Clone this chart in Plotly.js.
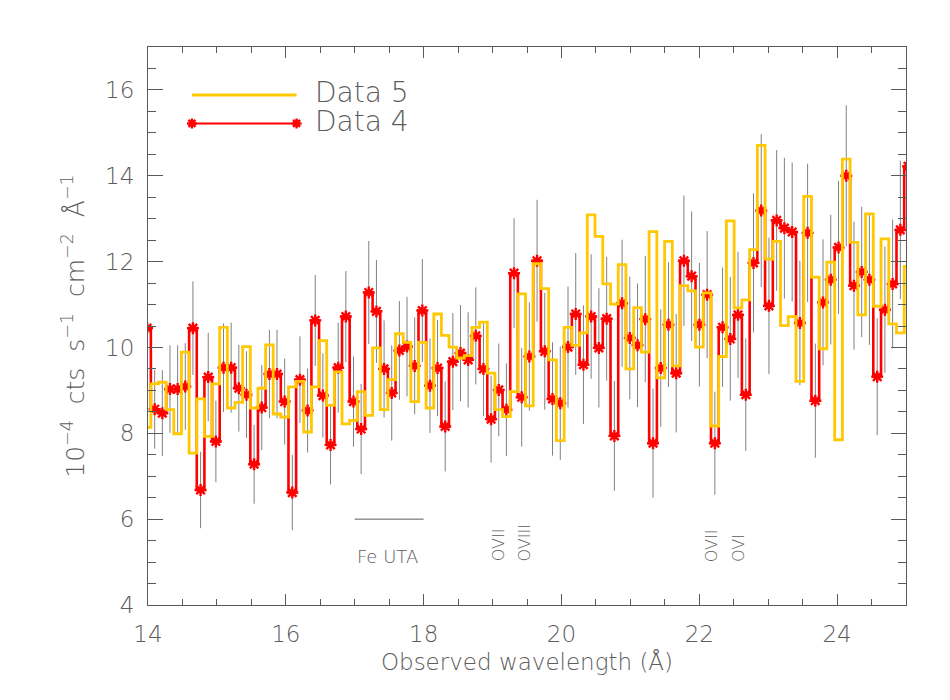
<!DOCTYPE html>
<html>
<head>
<meta charset="utf-8">
<script src="https://cdn.plot.ly/plotly-3.0.1.min.js"></script>
<style>
  html, body { margin: 0; padding: 0; background: #fff; }
  #chart { width: 950px; height: 700px; }
</style>
</head>
<body>
<div id="chart"></div>
<script>
// Bin centres, observed wavelength (Å)
const wavelength = [
    13.986, 14.097, 14.208, 14.319, 14.430, 14.541, 14.652, 14.763, 14.874, 14.985,
    15.096, 15.207, 15.318, 15.429, 15.540, 15.651, 15.762, 15.872, 15.983, 16.094,
    16.205, 16.316, 16.427, 16.538, 16.649, 16.760, 16.871, 16.982, 17.093, 17.204,
    17.315, 17.426, 17.537, 17.648, 17.759, 17.870, 17.981, 18.092, 18.202, 18.313,
    18.424, 18.535, 18.646, 18.757, 18.868, 18.979, 19.090, 19.201, 19.312, 19.423,
    19.534, 19.646, 19.758, 19.870, 19.983, 20.095, 20.207, 20.319, 20.431, 20.543,
    20.656, 20.768, 20.880, 20.992, 21.104, 21.216, 21.329, 21.441, 21.553, 21.665,
    21.777, 21.889, 22.002, 22.114, 22.226, 22.338, 22.450, 22.562, 22.675, 22.787,
    22.899, 23.011, 23.123, 23.235, 23.348, 23.460, 23.572, 23.684, 23.796, 23.908,
    24.021, 24.133, 24.245, 24.357, 24.469, 24.582, 24.694, 24.806, 24.918, 25.030
];

// Data 4 (red) flux and 1-sigma errors, 10^-4 cts s^-1 cm^-2 Å^-1
const data4 = [
    10.45, 8.56, 8.47, 9.03, 9.03, 9.09, 10.45, 6.68, 9.31, 7.81,
    9.53, 9.53, 9.05, 8.90, 7.28, 8.60, 9.38, 9.38, 8.74, 6.62,
    9.25, 8.53, 10.63, 8.88, 7.73, 9.53, 10.72, 8.74, 8.10, 11.28,
    10.84, 9.50, 8.94, 9.93, 10.02, 9.57, 10.86, 9.11, 9.52, 8.16,
    9.67, 9.87, 9.71, 10.27, 9.50, 8.33, 9.01, 8.55, 11.73, 8.84,
    9.79, 12.02, 9.91, 8.80, 8.70, 10.01, 10.78, 9.60, 10.72, 9.99,
    10.67, 7.94, 11.03, 10.22, 10.05, 10.66, 7.77, 9.52, 10.53, 9.40,
    12.02, 11.66, 10.53, 11.23, 7.77, 10.47, 10.20, 10.76, 8.90, 11.97,
    13.19, 10.97, 12.96, 12.78, 12.69, 10.57, 12.67, 8.76, 11.05, 11.58,
    12.33, 14.00, 11.44, 11.76, 11.58, 9.32, 10.88, 11.48, 12.74, 14.22
];
const data4Err = [
    1.00, 0.92, 1.00, 1.02, 1.02, 1.01, 1.09, 0.89, 1.03, 0.95,
    1.03, 1.05, 1.01, 1.01, 0.92, 0.99, 1.03, 1.03, 1.00, 0.88,
    1.01, 0.98, 1.06, 0.98, 0.92, 1.05, 1.06, 1.05, 1.05, 1.20,
    1.20, 1.13, 1.11, 1.15, 1.16, 1.13, 1.20, 1.10, 1.12, 1.05,
    1.13, 1.12, 1.11, 1.13, 1.10, 1.01, 1.08, 1.08, 1.28, 1.15,
    1.26, 1.42, 1.36, 1.32, 1.32, 1.41, 1.42, 1.38, 1.45, 1.39,
    1.44, 1.28, 1.48, 1.43, 1.44, 1.47, 1.27, 1.37, 1.45, 1.38,
    1.52, 1.51, 1.44, 1.48, 1.20, 1.39, 1.44, 1.47, 1.31, 1.62,
    1.78, 1.59, 1.64, 1.64, 1.62, 1.45, 1.61, 1.33, 1.47, 1.51,
    1.55, 1.64, 1.49, 1.52, 1.52, 1.36, 1.47, 1.50, 1.61, 1.65
];

// Data 5 (yellow) flux
const data5 = [
    8.14, 9.15, 9.19, 8.55, 7.99, 9.89, 7.54, 8.80, 7.93, 9.15,
    10.47, 8.59, 8.72, 10.02, 8.59, 9.05, 10.06, 8.45, 8.38, 9.08,
    9.21, 8.03, 9.08, 10.16, 8.65, 9.43, 8.22, 8.30, 8.97, 8.42,
    9.99, 8.55, 9.25, 10.32, 10.12, 8.74, 10.12, 8.59, 10.78, 10.28,
    10.01, 9.75, 9.81, 10.47, 10.59, 9.40, 8.55, 8.39, 8.97, 11.25,
    8.64, 11.95, 11.37, 9.71, 7.83, 10.47, 10.05, 10.34, 13.09, 12.59,
    11.48, 11.01, 11.93, 9.50, 10.93, 9.89, 12.70, 9.29, 12.47, 9.57,
    11.44, 11.32, 10.01, 11.27, 8.17, 9.79, 12.95, 10.92, 11.11, 12.28,
    14.71, 12.06, 12.47, 10.51, 10.72, 9.21, 13.52, 11.64, 9.97, 11.99,
    7.85, 14.39, 12.45, 10.76, 13.11, 10.96, 12.53, 10.55, 10.34, 11.89
];

// Line identifications
const lineLabels = ['OVII', 'OVIII', 'OVII', 'OVI'];
const lineWavelengths = [19.08, 19.46, 22.17, 22.58];
const utaRange = [17, 18];

const legendNames = ['Data 5', 'Data 4'];

const RED = '#ff0000';
const YELLOW = '#ffc800';
const AXIS = '#5a5a5a';
const TEXT = '#5c5c5c';
const FONT = 'DejaVu Sans, sans-serif';

const traces = [
    {
        x: wavelength, y: data4, type: 'scatter', mode: 'lines+markers',
        line: { shape: 'hvh', color: RED, width: 2.6 },
        marker: { symbol: 'asterisk-open', size: 10, color: RED, line: { color: RED, width: 2.4 } },
        error_y: { type: 'data', array: data4Err, visible: true, thickness: 1, width: 0, color: '#808080' },
        showlegend: false, hoverinfo: 'skip'
    },
    {
        x: wavelength, y: data5, type: 'scatter', mode: 'lines',
        line: { shape: 'hvh', color: YELLOW, width: 2.8 },
        showlegend: false, hoverinfo: 'skip'
    }
];

// Hand-made legend (long sample lines, asterisks at both ends)
const legX0 = 0.058, legX1 = 0.196, legTextX = 0.219;
const legY = [0.914, 0.863];
const star = 'M-5,0H5M0,-5V5M-3.5,-3.5L3.5,3.5M-3.5,3.5L3.5,-3.5';

const shapes = [
    { type: 'line', xref: 'x', yref: 'y', x0: utaRange[0], x1: utaRange[1], y0: 6, y1: 6,
      line: { color: AXIS, width: 1 } },
    { type: 'line', xref: 'paper', yref: 'paper', x0: legX0, x1: legX1, y0: legY[0], y1: legY[0],
      line: { color: YELLOW, width: 3 } },
    { type: 'line', xref: 'paper', yref: 'paper', x0: legX0, x1: legX1, y0: legY[1], y1: legY[1],
      line: { color: RED, width: 2 } }
];
[legX0, legX1].forEach(xa => {
    shapes.push({
        type: 'path', xref: 'paper', yref: 'paper', xsizemode: 'pixel', ysizemode: 'pixel',
        xanchor: xa, yanchor: legY[1], path: star, line: { color: RED, width: 2.4 }
    });
});

const annotations = [
    { x: utaRange[0], y: 5.13, xref: 'x', yref: 'y', text: 'Fe UTA', showarrow: false,
      xanchor: 'left', yanchor: 'middle', font: { size: 18, color: TEXT } }
];
lineLabels.forEach((lab, i) => {
    annotations.push({
        x: lineWavelengths[i], y: 4.96, xref: 'x', yref: 'y', text: lab, showarrow: false,
        textangle: -90, xanchor: 'center', yanchor: 'bottom', font: { size: 16, color: TEXT }
    });
});
legendNames.forEach((name, i) => {
    annotations.push({
        x: legTextX, y: legY[i] + 0.004, xref: 'paper', yref: 'paper', text: name, showarrow: false,
        xanchor: 'left', yanchor: 'middle', borderpad: 0, font: { size: 28, color: TEXT }
    });
});

const axisCommon = {
    showgrid: false, zeroline: false, showline: true, linecolor: AXIS, linewidth: 1,
    mirror: 'allticks', ticks: 'inside', tickcolor: AXIS, tickwidth: 1,
    tickfont: { size: 23, color: TEXT }
};

const layout = {
    width: 950, height: 700,
    margin: { l: 148, r: 44, t: 47, b: 95 },
    paper_bgcolor: '#ffffff', plot_bgcolor: '#ffffff',
    font: { family: FONT, color: TEXT, weight: 200 },
    showlegend: false,
    xaxis: Object.assign({}, axisCommon, {
        range: [14, 25], tick0: 14, dtick: 2, ticklen: 11, ticklabelstandoff: 8,
        minor: { dtick: 0.5, ticks: 'inside', ticklen: 6, tickcolor: AXIS },
        title: { text: 'Observed wavelength (Å)', font: { size: 23, color: TEXT }, standoff: 8 }
    }),
    yaxis: Object.assign({}, axisCommon, {
        range: [4, 17], tick0: 4, dtick: 2, ticklen: 15, ticklabelstandoff: 8,
        minor: { dtick: 0.5, ticks: 'inside', ticklen: 8, tickcolor: AXIS },
        title: {
            text: '10<sup>−4</sup>  cts  s<sup>−1</sup>  cm<sup>−2</sup>  Å<sup>−1</sup>',
            font: { size: 25, color: TEXT }, standoff: 13
        }
    }),
    shapes: shapes,
    annotations: annotations
};

Plotly.newPlot('chart', traces, layout, { displayModeBar: false, staticPlot: true });
</script>
</body>
</html>
